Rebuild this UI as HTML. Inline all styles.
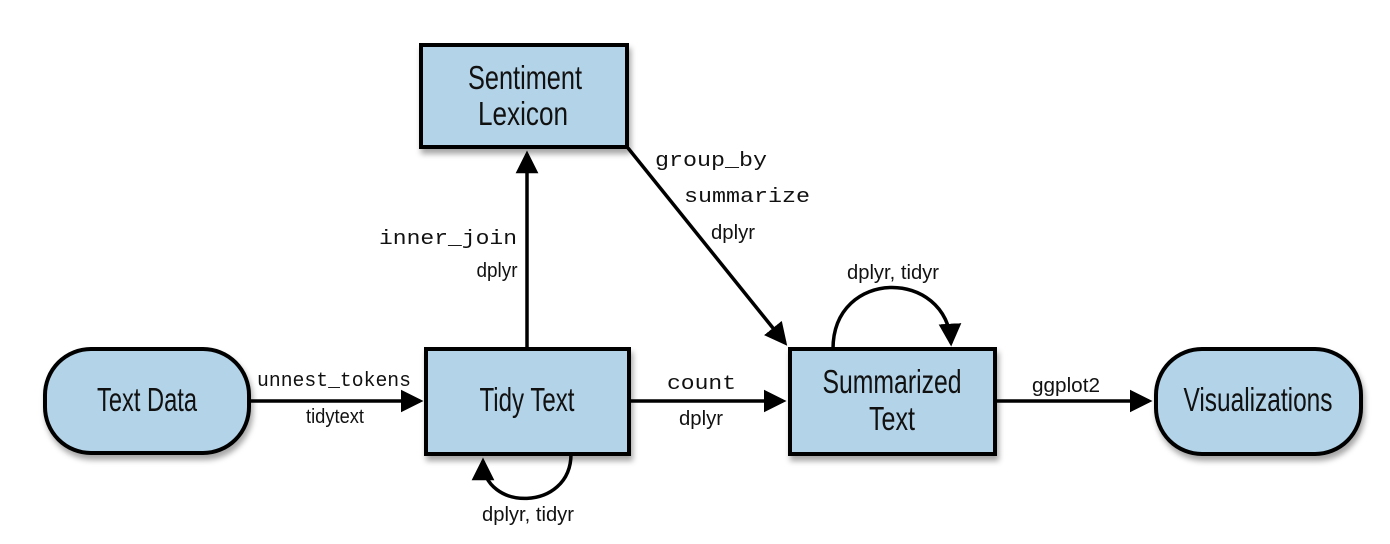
<!DOCTYPE html>
<html><head><meta charset="utf-8"><style>
html,body{margin:0;padding:0;background:#fff;}
svg{display:block;}
.n{font-family:"Liberation Sans Narrow","Liberation Sans",sans-serif;font-size:33px;fill:#111;text-anchor:middle;}
.s{font-family:"Liberation Sans Narrow","Liberation Sans",sans-serif;font-size:20px;fill:#111;text-anchor:middle;}
.m{font-family:"Liberation Mono",monospace;font-size:20px;fill:#111;}
.b{fill:#b3d3e8;stroke:#000;stroke-width:4;}
.l{stroke:#000;stroke-width:3.5;fill:none;}
</style></head><body>
<svg width="1390" height="544" viewBox="0 0 1390 544" xmlns="http://www.w3.org/2000/svg">
<defs>
<filter id="sh" x="-10%" y="-10%" width="130%" height="140%"><feDropShadow dx="2" dy="5" stdDeviation="3" flood-color="#000" flood-opacity="0.35"/></filter>
<marker id="a" markerWidth="6.5" markerHeight="6.5" refX="5.5" refY="3.25" orient="auto" markerUnits="strokeWidth"><path d="M0,0 L6.5,3.25 L0,6.5 Z" fill="#000"/></marker>
</defs>
<line class="l" x1="250" y1="401" x2="420" y2="401" marker-end="url(#a)"/>
<line class="l" x1="527" y1="349" x2="527" y2="154" marker-end="url(#a)"/>
<line class="l" x1="628" y1="148" x2="785" y2="343" marker-end="url(#a)"/>
<line class="l" x1="629" y1="401" x2="783" y2="401" marker-end="url(#a)"/>
<line class="l" x1="995" y1="401" x2="1149" y2="401" marker-end="url(#a)"/>
<path class="l" d="M833,349 C833,268 947,268 951,343" marker-end="url(#a)"/>
<path class="l" d="M571,454 C571,512 483,512 483,461" marker-end="url(#a)"/>
<g filter="url(#sh)">
<rect class="b" x="45" y="349" width="204" height="104" rx="46"/>
<rect class="b" x="426" y="349" width="203" height="105"/>
<rect class="b" x="421" y="45" width="206" height="102"/>
<rect class="b" x="790" y="349" width="205" height="105"/>
<rect class="b" x="1156" y="349" width="205" height="105" rx="46"/>
</g>
<text class="n" x="147" y="411" textLength="100" lengthAdjust="spacingAndGlyphs">Text Data</text>
<text class="n" x="527" y="411" textLength="95" lengthAdjust="spacingAndGlyphs">Tidy Text</text>
<text class="n" x="525" y="89" textLength="114" lengthAdjust="spacingAndGlyphs">Sentiment</text>
<text class="n" x="523" y="125" textLength="90" lengthAdjust="spacingAndGlyphs">Lexicon</text>
<text class="n" x="892" y="393" textLength="139" lengthAdjust="spacingAndGlyphs">Summarized</text>
<text class="n" x="892" y="430" textLength="46" lengthAdjust="spacingAndGlyphs">Text</text>
<text class="n" x="1258" y="411" textLength="149" lengthAdjust="spacingAndGlyphs">Visualizations</text>
<text class="m" x="257" y="386" textLength="154" lengthAdjust="spacingAndGlyphs">unnest_tokens</text>
<text class="s" x="335" y="423" textLength="58" lengthAdjust="spacingAndGlyphs">tidytext</text>
<text class="m" x="379" y="244" textLength="138" lengthAdjust="spacingAndGlyphs">inner_join</text>
<text class="s" x="497" y="277" textLength="41" lengthAdjust="spacingAndGlyphs">dplyr</text>
<text class="m" x="655" y="166" textLength="112" lengthAdjust="spacingAndGlyphs">group_by</text>
<text class="m" x="684" y="202" textLength="126" lengthAdjust="spacingAndGlyphs">summarize</text>
<text class="s" x="733" y="239" textLength="44" lengthAdjust="spacingAndGlyphs">dplyr</text>
<text class="m" x="667" y="389" textLength="69" lengthAdjust="spacingAndGlyphs">count</text>
<text class="s" x="701" y="425" textLength="44" lengthAdjust="spacingAndGlyphs">dplyr</text>
<text class="s" x="893" y="279" textLength="92" lengthAdjust="spacingAndGlyphs">dplyr, tidyr</text>
<text class="s" x="1066" y="392" textLength="68" lengthAdjust="spacingAndGlyphs">ggplot2</text>
<text class="s" x="528" y="521" textLength="92" lengthAdjust="spacingAndGlyphs">dplyr, tidyr</text>
</svg>
</body></html>
